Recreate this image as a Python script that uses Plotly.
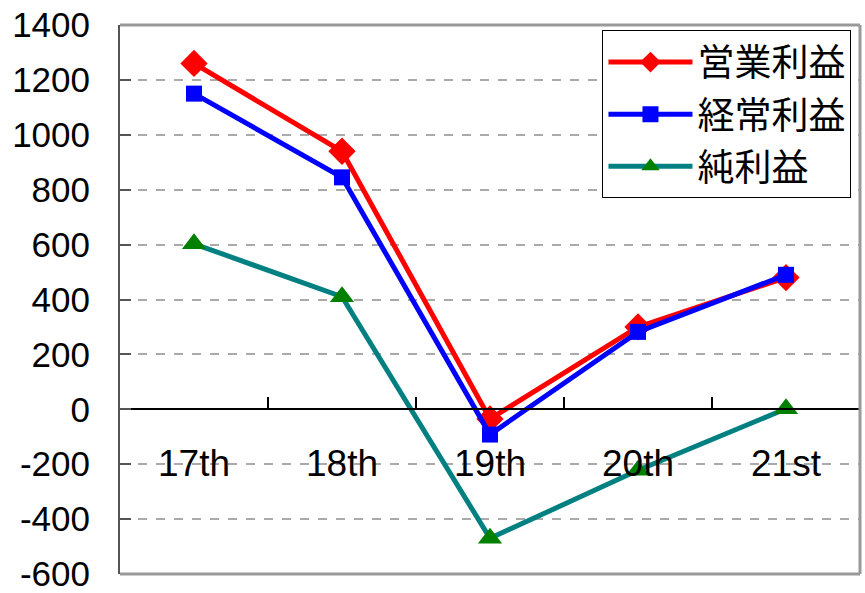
import plotly.graph_objects as go

# Fiscal periods and profit figures
periods = ["17th", "18th", "19th", "20th", "21st"]
operating_profit = [1260, 940, -35, 300, 480]
ordinary_profit = [1150, 845, -92, 282, 490]
net_profit = [603, 410, -470, -222, 2]

series_names = ["営業利益", "経常利益", "純利益"]

y_ticks = [-600, -400, -200, 0, 200, 400, 600, 800, 1000, 1200, 1400]
y_tick_text = ["-600", "-400", "-200", "0", "200", "400", "600", "800", "1000", "1200", "1400"]
y_range = [-600, 1400]

fig = go.Figure()

fig.add_trace(go.Scatter(
    x=periods, y=operating_profit, name=series_names[0], mode="lines+markers",
    legendgroup="a",
    line=dict(color="#ff0000", width=5),
    marker=dict(symbol="diamond", size=21, color="#ff0000"),
))
fig.add_trace(go.Scatter(
    x=periods, y=ordinary_profit, name=series_names[1], mode="lines+markers",
    legendgroup="b",
    line=dict(color="#0000ff", width=5),
    marker=dict(symbol="square", size=16, color="#0000ff"),
))
fig.add_trace(go.Scatter(
    x=periods, y=net_profit, name=series_names[2], mode="lines+markers",
    legendgroup="c",
    line=dict(color="#008080", width=5),
    marker=dict(symbol="triangle-up", size=21, color="#008000"),
))

# Category axis sits on the zero line
zero_pos = (0 - y_range[0]) / (y_range[1] - y_range[0])

fig.update_layout(
    width=865, height=593,
    margin=dict(l=120, r=5, t=25, b=19),
    paper_bgcolor="white", plot_bgcolor="white",
    font=dict(family="Liberation Sans, Arial, Noto Sans CJK JP", size=35, color="black"),
    showlegend=True,
    legend=dict(
        x=0.652, y=0.99, xanchor="left", yanchor="top",
        bordercolor="black", borderwidth=1, bgcolor="white",
        font=dict(size=37, family="Noto Sans CJK JP, Liberation Sans"),
        itemwidth=84, tracegroupgap=1,
    ),
    xaxis=dict(
        type="category", range=[-0.5, 4.5],
        anchor="free", position=zero_pos,
        showline=True, linecolor="black", linewidth=2,
        ticks="inside", tickson="boundaries", ticklen=11, tickwidth=2, tickcolor="black",
        showgrid=False, zeroline=False, automargin=False,
        ticklabelstandoff=21,
        tickfont=dict(size=37),
    ),
    yaxis=dict(
        range=y_range, tickvals=y_ticks, ticktext=y_tick_text,
        showline=True, linecolor="#555555", linewidth=2,
        ticks="inside", ticklen=11, tickwidth=2, tickcolor="#555555",
        showgrid=True, gridcolor="#aaaaaa", gridwidth=1.5, griddash="dash",
        zeroline=False, ticklabelstandoff=21, automargin=False,
        ticklabeloverflow="allow",
        tickfont=dict(size=35),
    ),
)

# Plot-area frame on the top, right and bottom sides
for x0, y0, x1, y1 in [(0, 1, 1, 1), (1, 0, 1, 1), (0, 0, 1, 0)]:
    fig.add_shape(type="line", xref="paper", yref="paper", x0=x0, y0=y0, x1=x1, y1=y1,
                  line=dict(color="#999999", width=3))

fig.write_html("out.html")
